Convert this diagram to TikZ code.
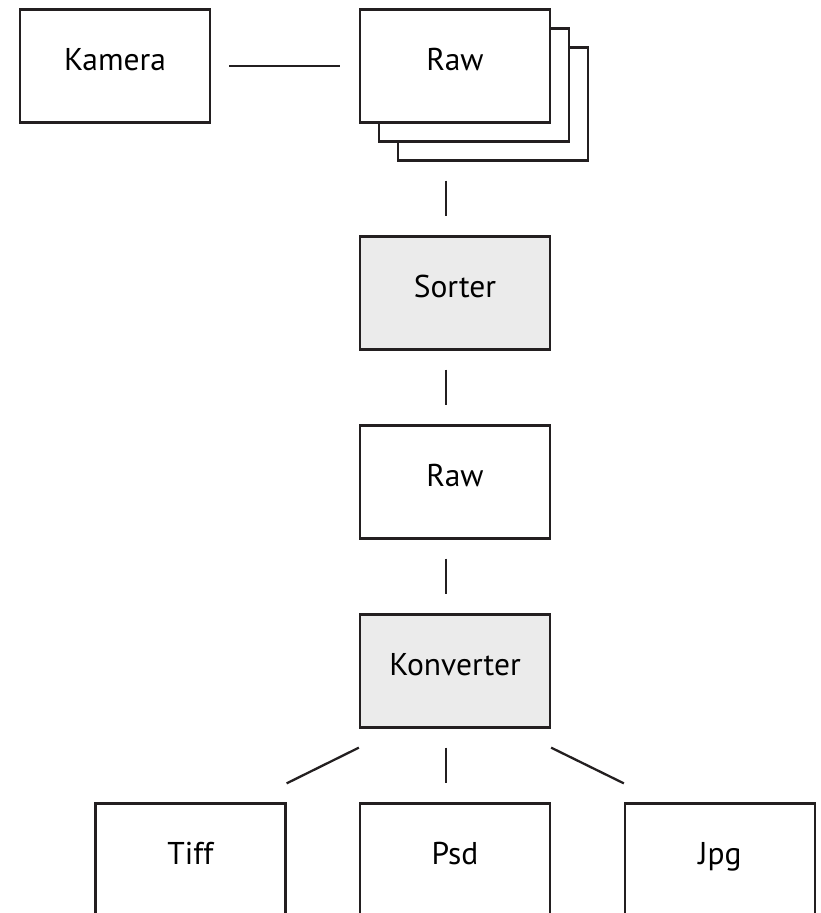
\documentclass[tikz,border=0pt]{standalone}
\usepackage{fontspec}
\setmainfont{PT Sans}
\definecolor{ink}{HTML}{231F20}
\definecolor{boxgray}{HTML}{EBEBEB}
\begin{document}
\begin{tikzpicture}[x=1pt, y=-1pt,
  card/.style={draw=ink, line width=2.3pt, fill=white, rectangle,
    minimum width=190pt, minimum height=113pt, inner sep=0pt,
    text height=20pt, text depth=11pt,
    font=\fontsize{31.5}{38}\selectfont, text=black},
  graycard/.style={card, fill=boxgray},
  conn/.style={draw=ink, line width=2.3pt}
]
\clip (0,0) rectangle (820,913);
% Kamera
\node[card] (kamera) at (115,66) {Kamera};
% Raw stack
\node[card] (rawc) at (493,104) {};
\node[card] (rawb) at (474,85) {};
\node[card] (rawa) at (455,66) {Raw};
% chain
\node[graycard] (sorter) at (455,293) {Sorter};
\node[card] (raw2) at (455,482) {Raw};
\node[graycard] (konv) at (455,671) {Konverter};
% outputs
\node[card] (tiff) at (190.5,860) {Tiff};
\node[card] (psd) at (455,860) {Psd};
\node[card] (jpg) at (720,860) {Jpg};
% connectors
\draw[conn, shorten <=18pt, shorten >=18.5pt] (kamera.east) -- (rawa.west);
\draw[conn] ([xshift=-9pt,yshift=-19pt]sorter.north |- rawc.south) -- ([xshift=-9pt,yshift=19pt]sorter.north);
\draw[conn] ([xshift=-9pt,yshift=-19pt]sorter.south) -- ([xshift=-9pt,yshift=19pt]raw2.north);
\draw[conn] ([xshift=-9pt,yshift=-19pt]raw2.south) -- ([xshift=-9pt,yshift=19pt]konv.north);
\draw[conn] ([yshift=-19pt]konv.south west) -- ([yshift=19pt]tiff.north east);
\draw[conn] ([xshift=-9pt,yshift=-19pt]konv.south) -- ([xshift=-9pt,yshift=19pt]psd.north);
\draw[conn] ([yshift=-19pt]konv.south east) -- ([yshift=19pt]jpg.north west);
\end{tikzpicture}
\end{document}
